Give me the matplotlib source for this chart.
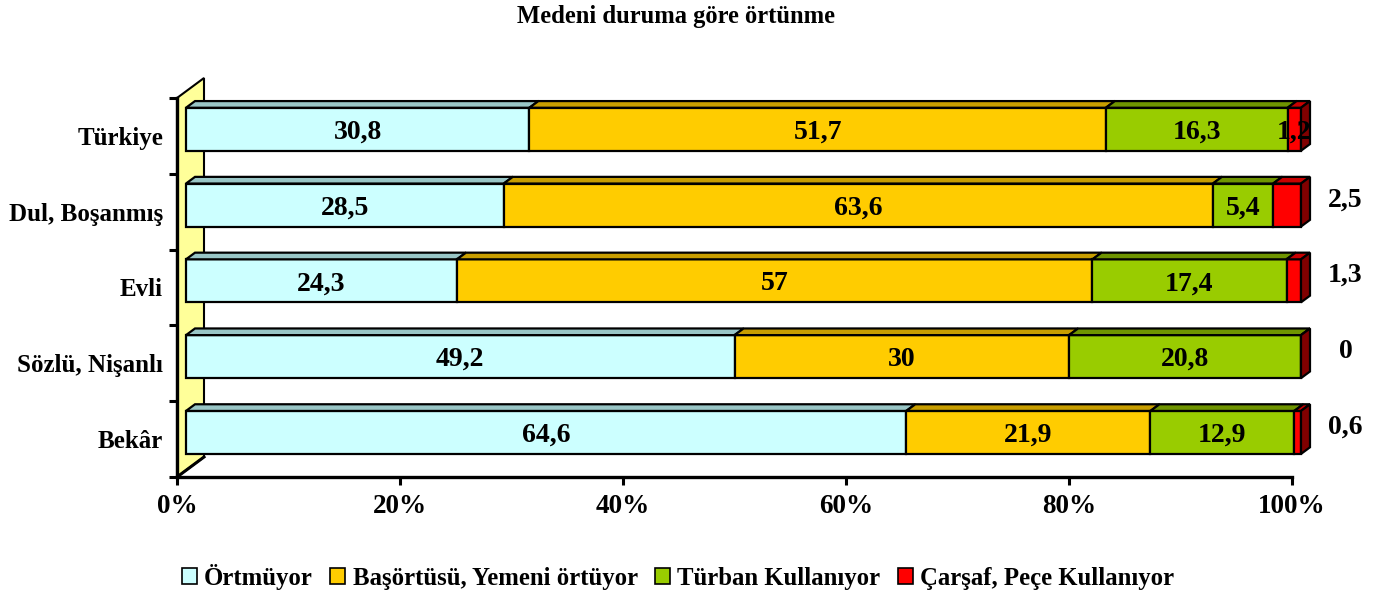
import numpy as np
import matplotlib
matplotlib.use('Agg')
import matplotlib.pyplot as plt
from matplotlib.patches import Polygon, Patch

plt.rcParams['font.family'] = ['Liberation Serif', 'DejaVu Serif']
plt.rcParams['font.weight'] = 'bold'

# veriler (alttan üste)
kategoriler = ['Bekâr', 'Sözlü, Nişanlı', 'Evli', 'Dul, Boşanmış', 'Türkiye']
ortmuyor = [64.6, 49.2, 24.3, 28.5, 30.8]
basortusu = [21.9, 30, 57, 63.6, 51.7]
turban = [12.9, 20.8, 17.4, 5.4, 16.3]
carsaf = [0.6, 0, 1.3, 2.5, 1.2]
seriler = ['Örtmüyor', 'Başörtüsü, Yemeni örtüyor', 'Türban Kullanıyor', 'Çarşaf, Peçe Kullanıyor']
renkler = ['#CCFFFF', '#FFCC00', '#99CC00', '#FF0000']
ustrenk = ['#99C6C6', '#C89E00', '#6F9400', '#C80000']
yanrenk = ['#669999', '#806400', '#4C6600', '#800000']

W, H = 1383, 593
fig = plt.figure(figsize=(W / 100, H / 100), dpi=100)
x0, x1, ytop, ybot = 177, 1292, 98, 477
ax = fig.add_axes([x0 / W, (H - ybot) / H, (x1 - x0) / W, (ybot - ytop) / H])
ax.set_xlim(0, 100)
ax.set_ylim(-0.5, 4.5)
for s in ax.spines.values():
    s.set_visible(False)

# derinlik (3B görünüm)
px_x = 100 / (x1 - x0)
px_y = 5 / (ybot - ytop)
dx, dy = 27 * px_x, 20 * px_y
bar_h = 43 * px_y

# sol duvar
duvar = Polygon([(0, -0.5), (0, 4.5), (dx, 4.5 + dy), (dx, -0.5 + dy)], closed=True,
                facecolor='#FFFF99', edgecolor='black', lw=1.5, clip_on=False, zorder=1)
ax.add_patch(duvar)
ax.plot([0, dx], [-0.5, -0.5 + dy], color='black', lw=2.2, clip_on=False, zorder=2)
ax.plot([0, 0], [-0.5, 4.5], color='black', lw=2.4, clip_on=False, zorder=2)
ax.plot([0, 100], [-0.5, -0.5], color='black', lw=2.4, clip_on=False, zorder=2)

data = np.array([ortmuyor, basortusu, turban, carsaf]).T
fx, fy = dx / 3, dy / 3  # ön yüz kayması
bx, by = dx / 3, dy / 3  # çubuk kalınlığı
ty = 3 * px_y  # etiketleri biraz aşağı

for i in range(len(kategoriler)):
    yc = i + fy
    y_lo, y_hi = yc - bar_h / 2, yc + bar_h / 2
    left = fx
    for k in range(4):
        v = data[i, k]
        right = left + v
        # ön yüz
        ax.add_patch(Polygon([(left, y_lo), (right, y_lo), (right, y_hi), (left, y_hi)], closed=True,
                             facecolor=renkler[k], edgecolor='black', lw=1.6, clip_on=False, zorder=3))
        # üst yüz
        ax.add_patch(Polygon([(left, y_hi), (right, y_hi), (right + bx, y_hi + by), (left + bx, y_hi + by)],
                             closed=True, facecolor=ustrenk[k], edgecolor='black', lw=1.6,
                             clip_on=False, zorder=3))
        if k == 3:
            ax.add_patch(Polygon([(right, y_lo), (right + bx, y_lo + by), (right + bx, y_hi + by), (right, y_hi)],
                                 closed=True, facecolor=yanrenk[k], edgecolor='black', lw=1.6,
                                 clip_on=False, zorder=3))
        etiket = f"{v:g}".replace('.', ',')
        if k == 3 and kategoriler[i] != 'Türkiye':
            ax.text(104.8, yc + 0.11 - ty, etiket, ha='center', va='center', fontsize=20,
                    fontweight='bold', zorder=5, clip_on=False)
        else:
            ax.text(left + v / 2, yc - ty, etiket, ha='center', va='center', fontsize=20,
                    fontweight='bold', zorder=5, clip_on=False)
        left = right

# eksenler
ax.set_xticks(np.arange(0, 101, 20))
ax.set_xticklabels([f"{t}%" for t in range(0, 101, 20)], fontsize=19.5, fontweight='bold')
ax.tick_params(axis='x', direction='out', length=6, width=2.2, pad=6.5)
ax.set_yticks(range(len(kategoriler)))
ax.set_yticklabels(kategoriler, fontsize=18, fontweight='bold')
ax.tick_params(axis='y', which='major', length=0, pad=10)
ax.set_yticks(np.arange(-0.5, 4.6, 1), minor=True)
ax.tick_params(axis='y', which='minor', direction='out', length=6, width=2.2)

fig.text(676 / W, 1 - 16 / H, 'Medeni duruma göre örtünme', ha='center', va='center',
         fontsize=17.7, fontweight='bold')

handles = [Patch(facecolor=c, edgecolor='black', lw=1.2) for c in renkler]
fig.legend(handles, seriler, loc='center', bbox_to_anchor=(678 / W, 1 - 577 / H), ncol=4,
           frameon=False, handlelength=0.6, handleheight=0.6,
           handletextpad=0.3, columnspacing=0.7, prop={'weight': 'bold', 'size': 17.8})

fig.savefig('out.png', dpi=100)
